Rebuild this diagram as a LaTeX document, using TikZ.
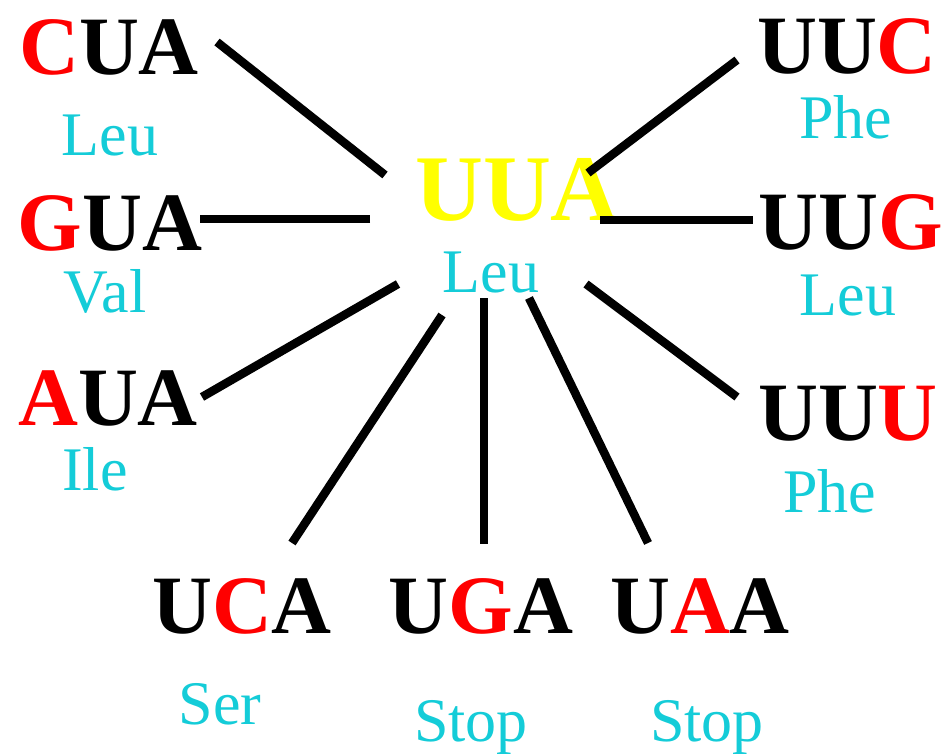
\documentclass[tikz,border=0pt]{standalone}
\usepackage{fontspec}
\setmainfont{Liberation Serif}
\definecolor{aacyan}{RGB}{20,204,216}
\definecolor{mutred}{RGB}{255,0,0}
\definecolor{hubyellow}{RGB}{255,255,0}
\newcommand{\mut}[1]{\textcolor{mutred}{#1}}
\begin{document}
\begin{tikzpicture}[x=1pt,y=-1pt,
  codon/.style={anchor=base,inner sep=0pt,font=\fontsize{83}{90}\selectfont\bfseries},
  hub/.style={anchor=base,inner sep=0pt,text=hubyellow,font=\fontsize{94}{100}\selectfont\bfseries},
  amino/.style={anchor=base,inner sep=0pt,text=aacyan,font=\fontsize{62}{68}\selectfont},
  link/.style={line width=8.5pt,black}]
\useasboundingbox[fill=white] (0,0) rectangle (952,753);

% central codon
\node[hub]   (uua)  at (517,220) {UUA};
\node[amino] (uuaL) at (491,292) {Leu};

% left column
\node[codon] (cua)  at (109,74)  {\mut{C}UA};
\node[amino] (cuaL) at (110,155) {Leu};
\node[codon] (gua)  at (110,250) {\mut{G}UA};
\node[amino] (guaL) at (105,312) {Val};
\node[codon] (aua)  at (108,425) {\mut{A}UA};
\node[amino] (auaL) at (95,490)  {Ile};

% right column
\node[codon] (uuc)  at (847,73)  {UU\mut{C}};
\node[amino] (uucL) at (846,138) {Phe};
\node[codon] (uug)  at (851,249) {UU\mut{G}};
\node[amino] (uugL) at (848,315) {Leu};
\node[codon] (uuu)  at (848,440) {UU\mut{U}};
\node[amino] (uuuL) at (830,512) {Phe};

% bottom row
\node[codon] (uca)  at (242,633) {U\mut{C}A};
\node[amino] (ucaL) at (220,724) {Ser};
\node[codon] (uga)  at (481,633) {U\mut{G}A};
\node[amino] (ugaL) at (471,741) {Stop};
\node[codon] (uaa)  at (700,633) {U\mut{A}A};
\node[amino] (uaaL) at (707,741) {Stop};

% connector end points
\coordinate (hCUA) at (385,175);  \coordinate (tCUA) at (217,42);
\coordinate (hGUA) at (370,219);  \coordinate (tGUA) at (200,219);
\coordinate (hAUA) at (398,284);  \coordinate (tAUA) at (202,397);
\coordinate (hUCA) at (442,315);  \coordinate (tUCA) at (292,543);
\coordinate (hUGA) at (484,298);  \coordinate (tUGA) at (484,544);
\coordinate (hUAA) at (529,298);  \coordinate (tUAA) at (648,543);
\coordinate (hUUU) at (586,284);  \coordinate (tUUU) at (737,397);
\coordinate (hUUG) at (600,220);  \coordinate (tUUG) at (753,220);
\coordinate (hUUC) at (588,173);  \coordinate (tUUC) at (737,60);

\foreach \c in {CUA,GUA,AUA,UCA,UGA,UAA,UUU,UUG,UUC}
  \draw[link] (h\c) -- (t\c);
\end{tikzpicture}
\end{document}
